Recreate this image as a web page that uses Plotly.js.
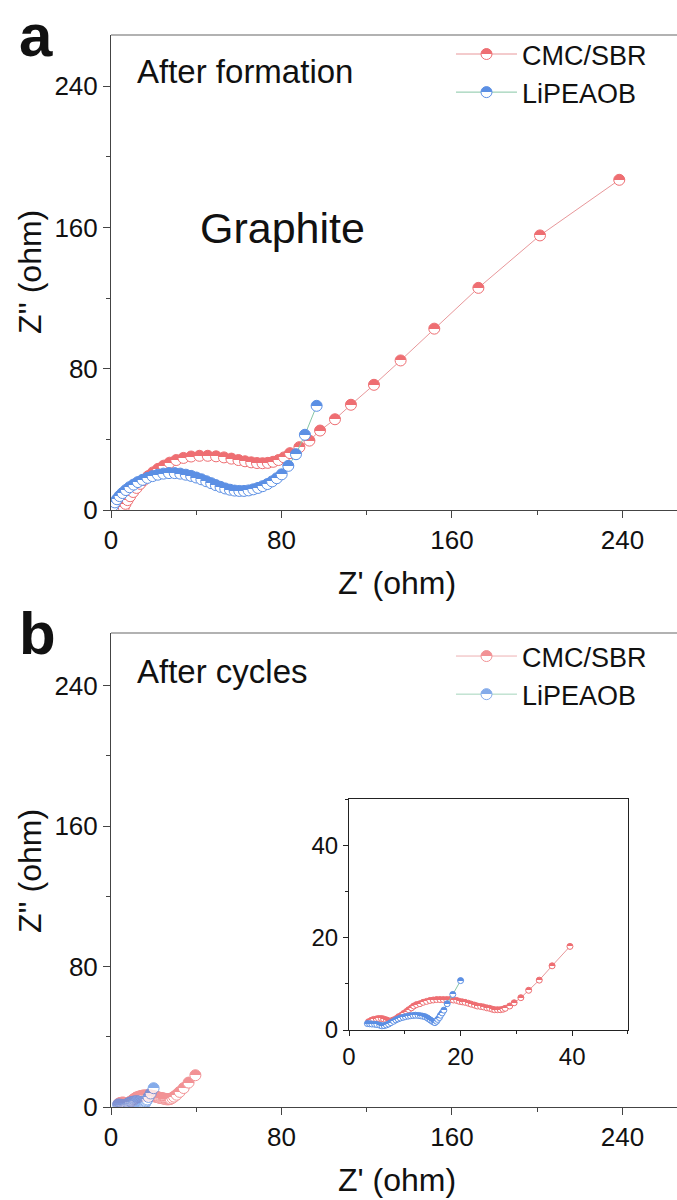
<!DOCTYPE html>
<html>
<head>
<meta charset="utf-8">
<script src="https://cdn.plot.ly/plotly-3.0.1.min.js"></script>
<style>html,body{margin:0;padding:0;background:#fff}#gd{width:677px;height:1200px}</style>
</head>
<body>
<div id="gd"></div>
<script>
// ---- Data ----
// Panel a: after formation
const formRedX = [6.0,6.8,7.8,9.0,10.4,12.0,13.7,15.5,17.5,19.7,22.1,24.7,27.5,30.6,34.0,37.6,41.5,45.4,49.3,53.0,56.5,59.8,62.9,65.8,68.5,71.1,73.6,76.1,78.6,81.2,84.0,88.4,93.1,98.1,105.1,112.6,123.4,135.9,151.7,172.4,201.3,238.5];
const formRedY = [1.5,3.5,5.6,7.8,10.2,12.5,14.8,17.0,19.2,21.3,23.3,25.1,26.8,28.3,29.5,30.3,30.7,30.7,30.4,29.8,29.1,28.3,27.6,27.0,26.6,26.5,26.7,27.3,28.3,29.8,32.2,35.6,39.3,45.0,51.4,59.6,70.9,84.7,102.7,125.8,155.5,187.0];
const formBlueX = [1.0,1.8,2.8,4.0,5.4,7.0,8.7,10.6,12.6,14.8,17.1,19.5,22.0,24.6,27.2,29.9,32.5,35.1,37.6,40.0,42.4,44.7,47.0,49.2,51.4,53.6,55.8,58.0,60.2,62.4,64.6,66.8,69.0,71.2,73.4,75.6,77.8,80.1,83.2,86.8,91.0,96.5];
const formBlueY = [2.5,4.3,6.1,7.9,9.6,11.3,12.9,14.4,15.8,17.1,18.2,19.2,20.0,20.6,20.9,20.9,20.6,20.0,19.3,18.4,17.4,16.3,15.2,14.1,13.1,12.2,11.5,11.0,10.8,10.8,11.1,11.7,12.5,13.5,14.7,16.2,18.0,20.2,25.0,31.6,42.6,59.0];
// Panel b: after cycles (main plot and inset share these)
const cycRedX = [3.5,4.0,4.4,4.9,5.3,5.8,6.2,6.7,7.1,7.6,8.0,8.5,8.9,9.4,9.8,10.3,10.7,11.2,11.6,12.1,12.7,13.3,13.9,14.5,15.1,15.7,16.3,16.9,17.5,18.1,18.7,19.3,19.8,20.3,20.8,21.4,21.9,22.5,23.0,23.6,24.1,24.7,25.2,25.7,26.1,26.6,27.1,27.6,28.0,28.8,29.6,30.8,32.2,34.1,36.4,39.6];
const cycRedY = [1.8,2.1,2.3,2.4,2.5,2.5,2.4,2.2,2.0,2.0,2.2,2.5,2.9,3.2,3.6,4.0,4.4,4.8,5.2,5.5,5.7,6.0,6.2,6.4,6.5,6.6,6.6,6.6,6.6,6.6,6.5,6.4,6.2,6.1,6.0,5.8,5.6,5.4,5.2,5.1,5.0,4.8,4.7,4.5,4.4,4.4,4.4,4.5,4.7,5.2,5.9,7.0,8.6,10.8,13.9,18.1];
const cycBlueX = [3.3,3.7,4.1,4.6,5.0,5.5,5.9,6.3,6.7,7.1,7.5,8.0,8.4,8.8,9.2,9.7,10.1,10.6,11.0,11.5,11.9,12.4,12.8,13.2,13.6,14.0,14.3,14.6,14.9,15.2,15.4,15.7,15.9,16.2,16.4,16.7,17.0,17.6,18.6,20.0];
const cycBlueY = [1.4,1.35,1.3,1.25,1.2,1.05,0.9,0.95,1.1,1.3,1.6,1.9,2.2,2.4,2.6,2.75,2.9,3.0,3.1,3.15,3.2,3.15,3.1,3.0,2.9,2.65,2.4,2.15,1.9,1.7,1.6,1.9,2.3,2.7,3.2,3.7,4.3,5.7,7.7,10.7];
const seriesNames = ['CMC/SBR', 'LiPEAOB'];
const mainTicks = [0, 80, 160, 240];
const insetTicks = [0, 20, 40];

// ---- Styles ----
const FONT = 'Liberation Sans, Arial, Helvetica, sans-serif';
const RED = '#ee6e72', RED_LINE = '#e8979a';
const BLUE = '#5b8fe4', BLUE_LINE = '#86c6a6';
function tr(x, y, name, col, lcol, xa, ya, size, opts) {
  return Object.assign({
    type: 'scatter', mode: 'lines+markers', x: x, y: y, name: name,
    xaxis: xa, yaxis: ya,
    line: {color: lcol, width: 1},
    marker: {symbol: 'circle', size: size, color: col,
             gradient: {type: 'vertical', color: '#ffffff'},
             line: {color: col, width: 1}},
    hoverinfo: 'none'
  }, opts || {});
}
const data = [
  tr(formRedX, formRedY, seriesNames[0], RED, RED_LINE, 'x', 'y', 11, {legend: 'legend'}),
  tr(formBlueX, formBlueY, seriesNames[1], BLUE, BLUE_LINE, 'x', 'y', 11, {legend: 'legend'}),
  tr(cycRedX, cycRedY, seriesNames[0], RED, RED_LINE, 'x2', 'y2', 11, {legend: 'legend2', opacity: 0.75}),
  tr(cycBlueX, cycBlueY, seriesNames[1], BLUE, BLUE_LINE, 'x2', 'y2', 11, {legend: 'legend2', opacity: 0.75}),
  tr(cycRedX, cycRedY, seriesNames[0], RED, RED_LINE, 'x3', 'y3', 6, {showlegend: false}),
  tr(cycBlueX, cycBlueY, seriesNames[1], BLUE, BLUE_LINE, 'x3', 'y3', 6, {showlegend: false})
];

function mainAx(extra) {
  return Object.assign({
    tickvals: mainTicks, ticktext: mainTicks.map(String),
    ticks: 'outside', ticklen: 7, tickwidth: 1, tickcolor: '#444',
    minor: {dtick: 40, tick0: 0, ticks: 'outside', ticklen: 4, tickcolor: '#444'},
    showline: true, linecolor: '#444', linewidth: 1,
    showgrid: false, zeroline: false,
    tickfont: {family: FONT, size: 26, color: '#111'}
  }, extra);
}
function insetAx(extra) {
  return Object.assign({
    range: [0, 50], tickvals: insetTicks, ticktext: insetTicks.map(String),
    ticks: 'outside', ticklen: 5, tickwidth: 1, tickcolor: '#222',
    minor: {dtick: 10, tick0: 0, ticks: 'outside', ticklen: 3, tickcolor: '#222'},
    showline: true, mirror: true, linecolor: '#222', linewidth: 1,
    showgrid: false, zeroline: false,
    tickfont: {family: FONT, size: 24, color: '#111'}
  }, extra);
}
const txt = (t, x, y, size, extra) => Object.assign({
  text: t, xref: 'paper', yref: 'paper', x: x, y: y, showarrow: false,
  font: {family: FONT, size: size, color: '#111'}, xanchor: 'left', yanchor: 'middle'
}, extra || {});
const legendBase = {
  xanchor: 'left', yanchor: 'top', bgcolor: 'rgba(0,0,0,0)', borderwidth: 0,
  itemwidth: 61,
  font: {family: FONT, size: 27, color: '#111'}
};

const layout = {
  width: 677, height: 1200,
  margin: {l: 111, r: 0, t: 35, b: 93},
  paper_bgcolor: '#fff', plot_bgcolor: '#fff',
  xaxis: mainAx({domain: [0, 1], anchor: 'y', range: [0, 265.6]}),
  yaxis: mainAx({domain: [0.5569, 1], anchor: 'x', range: [0, 269]}),
  xaxis2: mainAx({domain: [0, 1], anchor: 'y2', range: [0, 265.6]}),
  yaxis2: mainAx({domain: [0, 0.4422], anchor: 'x2', range: [0, 270]}),
  xaxis3: insetAx({domain: [0.4205, 0.9134], anchor: 'y3'}),
  yaxis3: insetAx({domain: [0.0718, 0.2873], anchor: 'x3'}),
  legend: Object.assign({x: 0.6007, y: 1.0047}, legendBase),
  legend2: Object.assign({x: 0.6007, y: 0.4431}, legendBase),
  shapes: [
    {type: 'line', xref: 'paper', yref: 'paper', x0: 0, x1: 1, y0: 1, y1: 1, line: {color: '#999', width: 1.5}},
    {type: 'line', xref: 'paper', yref: 'paper', x0: 0, x1: 1, y0: 0.4422, y1: 0.4422, line: {color: '#999', width: 1.5}}
  ],
  annotations: [
    txt('<b>a</b>', -0.1325, 1.0326, 60, {xanchor: 'center', yanchor: 'top'}),
    txt('<b>b</b>', -0.1290, 0.4748, 60, {xanchor: 'center', yanchor: 'top'}),
    txt('After formation', 0.0424, 0.9655, 33),
    txt('Graphite', 0.1537, 0.8200, 43),
    txt('After cycles', 0.0424, 0.4058, 33),
    txt("Z'' (ohm)", -0.143, 0.779, 32, {xanchor: 'center', textangle: -90}),
    txt("Z'' (ohm)", -0.143, 0.2201, 32, {xanchor: 'center', textangle: -90}),
    txt("Z' (ohm)", 0.505, 0.4888, 32, {xanchor: 'center'}),
    txt("Z' (ohm)", 0.505, -0.0868, 32, {xanchor: 'center', yanchor: 'bottom'})
  ]
};

Plotly.newPlot('gd', data, layout, {staticPlot: true, displayModeBar: false}).then(function () {
  // make the vertical marker gradients a sharp half fill (top coloured, bottom white)
  document.querySelectorAll('linearGradient').forEach(function (g) {
    g.querySelectorAll('stop').forEach(function (s) { s.setAttribute('offset', '50%'); });
  });
});
</script>
</body>
</html>
